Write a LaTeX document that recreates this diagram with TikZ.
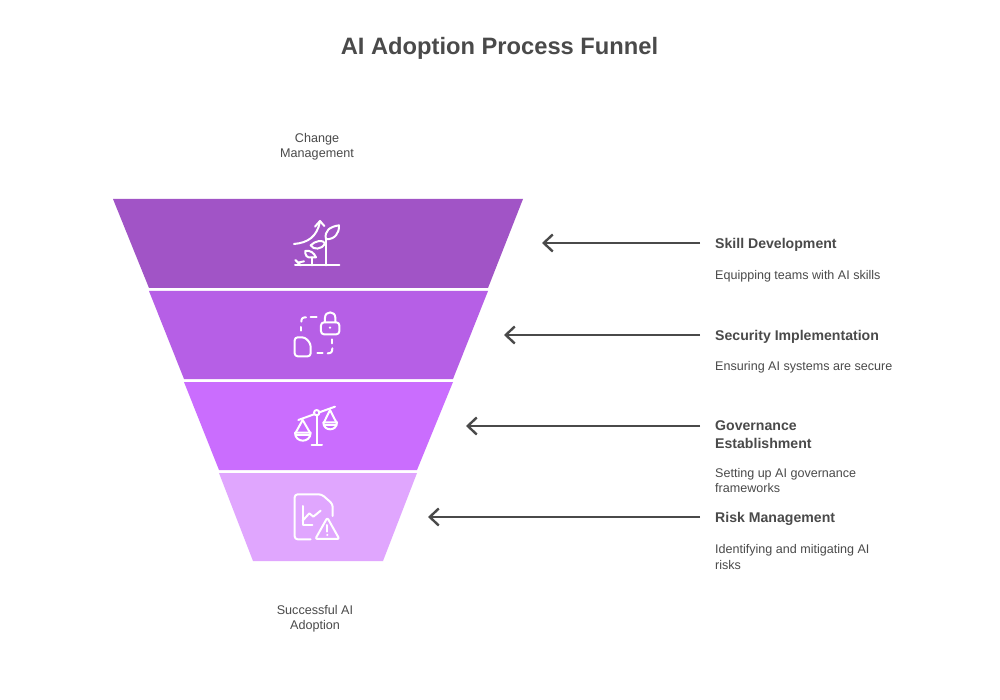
\documentclass[tikz,border=0pt]{standalone}
\usepackage{fontspec}
\setmainfont{Liberation Sans}
\usetikzlibrary{arrows.meta}
\definecolor{txt}{HTML}{4A4A4A}
\definecolor{fa}{HTML}{A154C6}
\definecolor{fb}{HTML}{B65FE6}
\definecolor{fc}{HTML}{CA6DFE}
\definecolor{fd}{HTML}{E0A6FE}
\tikzset{
  x=1pt,y=-1pt,
  band/.style={draw=none},
  icon/.style={draw=white,line width=2pt,line cap=round,line join=round,fill=none},
  ttl/.style={font=\fontsize{23.7}{28}\selectfont\bfseries,text=txt,inner sep=0pt,anchor=center},
  capt/.style={font=\fontsize{12.6}{15.5}\selectfont,text=txt,inner sep=0pt,align=center,anchor=center},
  head/.style={font=\fontsize{14.1}{18}\selectfont\bfseries,text=txt,inner sep=0pt,align=left,anchor=north west},
  desc/.style={font=\fontsize{12.55}{15.5}\selectfont,text=txt,inner sep=0pt,align=left,anchor=north west},
  conn/.style={draw=txt,line width=2.2pt,-{Straight Barb[length=9pt,width=17pt,line width=2.4pt]}},
}
\begin{document}
\begin{tikzpicture}
\useasboundingbox (0,0) rectangle (1000,700);
\fill[white] (0,0) rectangle (1000,700);
\node[ttl] (title) at (499.5,48) {AI Adoption Process Funnel};
\node[capt] (top) at (317,146.5) {Change\\Management};
\node[capt] (bottom) at (315,618.5) {Successful AI\\Adoption};

\fill[band,fa] (113,199)--(523,199)--(488,288)--(149,288)--cycle;
\fill[band,fb] (149,291)--(488,291)--(453,379)--(184,379)--cycle;
\fill[band,fc] (184,382)--(453,382)--(417,470)--(219,470)--cycle;
\fill[band,fd] (219,473)--(417,473)--(383,561)--(253,561)--cycle;

% icon 1
\begin{scope}[shift={(270,200)},scale=0.3333]
\draw[icon] (75,196)--(208,196);
\draw[icon] (72,132) .. controls (115,128) and (140,110) .. (150,66);
\draw[icon] (135,80)--(150,63)--(163,78);
\draw[icon] (168,196)--(168,118);
\draw[icon] (168,118) .. controls (162,92) and (180,80) .. (207,76) .. controls (208,100) and (195,118) .. (168,118);
\draw[icon] (165,130) .. controls (155,150) and (130,150) .. (122,136) .. controls (135,122) and (160,118) .. (165,130);
\draw[icon] (125,196)--(125,172);
\draw[icon] (125,172) .. controls (110,175) and (105,165) .. (106,153) .. controls (120,150) and (132,158) .. (138,172) .. controls (134,172) and (130,172) .. (125,172);
\draw[icon] (76,180)--(92,196);
\draw[icon] (84,188)--(102,184);
\end{scope}

% icon 2
\begin{scope}[shift={(270,295)},scale=0.3333]
\draw[icon] (94,107)--(94,96);
\draw[icon] (94,80) .. controls (94,70) and (98,67) .. (108,67);
\draw[icon] (122,67)--(140,67);
\draw[icon] (187,133)--(187,145);
\draw[icon] (187,160) .. controls (187,172) and (183,175) .. (173,175);
\draw[icon] (142,175)--(158,175);
\draw[icon,rounded corners=3pt] (153,82) rectangle (208,118);
\draw[icon] (165,82)--(165,68) .. controls (165,47) and (196,47) .. (196,68)--(196,82);
\fill[white] (180,98) circle (4);
\draw[icon,rounded corners=3pt] (74,127)--(105,127)--(122,146)--(122,184)--(74,184)--cycle;
\end{scope}

% icon 3
\begin{scope}[shift={(270,385)},scale=0.3333]
\draw[icon] (85,105)--(132,88);
\draw[icon] (148,82)--(195,65);
\draw[icon] (140,83) circle (8);
\draw[icon] (140,91)--(140,180);
\draw[icon] (125,180)--(156,180);
\draw[icon] (98,105)--(77,143);
\draw[icon] (98,105)--(120,143);
\draw[icon] (75,143)--(122,143) .. controls (122,175) and (75,175) .. (75,143);
\draw[icon] (180,75)--(162,112);
\draw[icon] (180,75)--(199,112);
\draw[icon] (160,112)--(201,112) .. controls (201,140) and (160,140) .. (160,112);
\draw[icon] (77,150)--(120,150);
\draw[icon] (162,119)--(199,119);
\end{scope}

% icon 4
\begin{scope}[shift={(270,480)},scale=0.3333]
\draw[icon,rounded corners=3pt] (122,178)--(74,178)--(74,43)--(155,43)--(188,72)--(188,108);
\draw[icon] (98,78)--(98,136)--(127,136);
\draw[icon] (98,122)--(118,100)--(130,110)--(152,92);
\draw[icon,rounded corners=2pt] (172,113)--(208,177)--(136,177)--cycle;
\draw[icon] (172,135)--(172,155);
\fill[white] (172,165) circle (3.5);
\end{scope}

% labels
\node[head] (h1) at (715,238.5) {Skill Development};
\node[desc] (d1) at (715,270) {Equipping teams with AI skills};
\node[head] (h2) at (715,330.5) {Security Implementation};
\node[desc] (d2) at (715,361.5) {Ensuring AI systems are secure};
\node[head] (h3) at (715,420) {Governance\\Establishment};
\node[desc] (d3) at (715,468) {Setting up AI governance\\frameworks};
\node[head] (h4) at (715,512.5) {Risk Management};
\node[desc] (d4) at (715,544.5) {Identifying and mitigating AI\\risks};

% connectors
\coordinate (s1) at (700,243); \coordinate (e1) at (542,243);
\coordinate (s2) at (700,335); \coordinate (e2) at (504,335);
\coordinate (s3) at (700,426); \coordinate (e3) at (466,426);
\coordinate (s4) at (700,517); \coordinate (e4) at (428,517);
\draw[conn] (s1)--(e1);
\draw[conn] (s2)--(e2);
\draw[conn] (s3)--(e3);
\draw[conn] (s4)--(e4);
\end{tikzpicture}
\end{document}
